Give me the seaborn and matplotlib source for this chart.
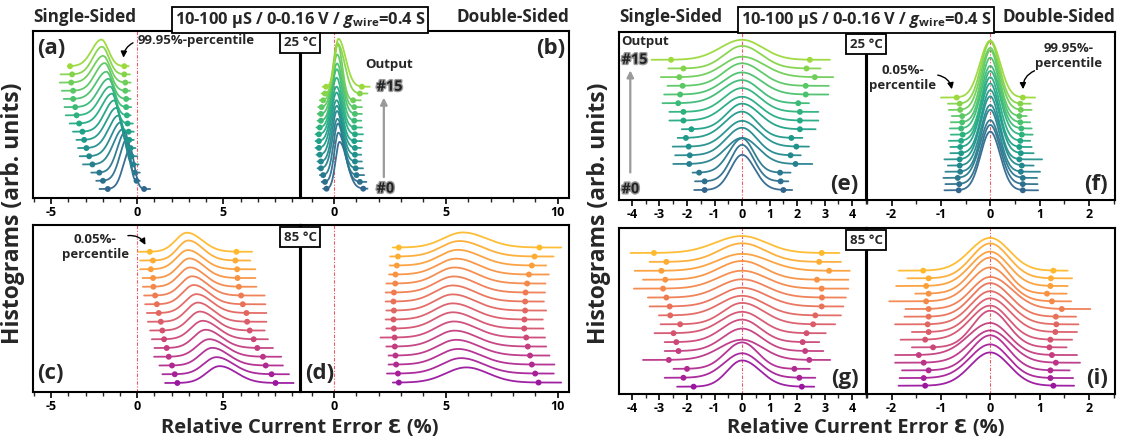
import numpy as np
import pandas as pd
import matplotlib
matplotlib.use("Agg")
import matplotlib.pyplot as plt
import seaborn as sns
from matplotlib import patheffects as pe
from matplotlib.ticker import MultipleLocator

sns.set_theme(style="white")
FONT = "Open Sans"
plt.rcParams["font.family"] = [FONT, "DejaVu Sans"]
plt.rcParams["font.weight"] = "bold"
plt.rcParams["axes.unicode_minus"] = False
plt.rcParams["mathtext.fontset"] = "custom"
plt.rcParams["mathtext.rm"] = f"{FONT}:bold"
plt.rcParams["mathtext.bf"] = f"{FONT}:bold"
plt.rcParams["mathtext.it"] = f"{FONT}:bold:italic"

# ---------------- data (lists ordered from output #15 down to #0) -------------
outputs = list(range(16))

# (a) 25 °C single-sided
a_lo_ext = [-4.00, -4.45, -4.50, -4.38, -4.27, -4.22, -4.15, -3.92, -3.73, -3.53, -3.44, -3.34, -3.15, -2.67, -2.38, -2.19]
a_p_lo   = [-3.90, -3.78, -3.83, -3.72, -3.72, -3.60, -3.52, -3.37, -3.18, -3.08, -2.95, -2.79, -2.60, -2.20, -1.99, -1.71]
a_peak   = [-2.08, -2.04, -1.98, -1.89, -1.79, -1.66, -1.56, -1.46, -1.33, -1.21, -1.08, -0.94, -0.83, -0.69, -0.56, -0.41]
a_p_hi   = [-0.75, -0.75, -0.69, -0.69, -0.64, -0.64, -0.60, -0.56, -0.50, -0.46, -0.38, -0.33, -0.23, -0.14, -0.04, 0.40]
a_hi_ext = [-0.50, -0.42, -0.38, -0.42, -0.38, -0.35, -0.38, -0.25, -0.20, -0.20, -0.10, 0.00, 0.08, 0.15, 0.15, 0.75]

# (b) 25 °C double-sided
b_lo_ext = [-0.50, -0.55, -0.63, -0.70, -0.73, -0.73, -0.78, -0.82, -0.82, -0.82, -0.78, -0.73, -0.73, -0.63, -0.55, -0.48]
b_p_lo   = [-0.35, -0.40, -0.48, -0.55, -0.58, -0.58, -0.63, -0.67, -0.67, -0.67, -0.63, -0.58, -0.58, -0.48, -0.40, -0.33]
b_peak   = [0.20, 0.18, 0.16, 0.15, 0.14, 0.13, 0.12, 0.12, 0.12, 0.12, 0.13, 0.14, 0.16, 0.18, 0.20, 0.25]
b_p_hi   = [1.25, 1.16, 0.86, 0.91, 0.94, 0.91, 0.91, 0.94, 0.91, 0.94, 0.94, 0.94, 0.97, 1.01, 1.16, 1.31]
b_hi_ext = [1.60, 1.50, 1.20, 1.25, 1.25, 1.22, 1.25, 1.30, 1.25, 1.20, 1.22, 1.25, 1.30, 1.35, 1.45, 1.50]

# (c) 85 °C single-sided
c_lo_ext = [0.08, 0.17, 0.17, 0.31, 0.33, 0.40, 0.46, 0.56, 0.62, 0.75, 0.85, 1.00, 0.98, 1.29, 1.46, 1.62]
c_p_lo   = [0.73, 0.91, 0.79, 0.92, 0.94, 1.04, 1.14, 1.25, 1.37, 1.46, 1.56, 1.71, 1.83, 2.02, 2.18, 2.33]
c_peak   = [2.89, 2.97, 2.94, 3.03, 3.07, 3.19, 3.29, 3.44, 3.52, 3.64, 3.80, 3.97, 4.18, 4.36, 4.60, 4.78]
c_p_hi   = [5.76, 5.70, 5.80, 5.82, 5.90, 6.03, 6.13, 6.34, 6.38, 6.53, 6.76, 6.97, 7.30, 7.46, 7.80, 8.03]
c_hi_ext = [6.67, 6.57, 6.86, 6.86, 6.92, 7.40, 7.44, 7.50, 7.50, 7.40, 7.59, 7.88, 8.36, 8.46, 8.81, 9.08]

# (d) 85 °C double-sided
d_lo_ext = [2.63, 2.51, 2.49, 2.46, 2.34, 2.31, 2.31, 2.34, 2.31, 2.34, 2.08, 2.34, 2.44, 2.44, 2.37, 2.63]
d_p_lo   = [2.90, 2.86, 2.81, 2.75, 2.74, 2.68, 2.66, 2.68, 2.66, 2.68, 2.71, 2.72, 2.75, 2.78, 2.86, 2.90]
d_peak   = [5.76, 5.61, 5.54, 5.46, 5.39, 5.36, 5.31, 5.31, 5.31, 5.31, 5.36, 5.39, 5.46, 5.54, 5.68, 5.91]
d_p_hi   = [9.18, 8.96, 8.84, 8.71, 8.63, 8.56, 8.54, 8.54, 8.51, 8.50, 8.59, 8.66, 8.76, 8.84, 8.99, 9.14]
d_hi_ext = [10.15, 9.81, 9.48, 9.60, 9.45, 9.43, 9.38, 9.48, 9.33, 9.36, 9.43, 9.48, 9.63, 9.85, 9.82, 10.15]

# (e) 25 °C single-sided (zero-centred)
e_lo_ext = [-3.29, -2.68, -2.95, -2.71, -2.83, -2.89, -2.64, -2.64, -2.19, -2.34, -2.52, -2.43, -2.50, -1.80, -1.71, -1.74]
e_p_lo   = [-2.58, -2.13, -2.28, -2.16, -2.25, -2.32, -2.13, -2.13, -1.84, -2.04, -1.94, -1.90, -1.92, -1.56, -1.36, -1.36]
e_peak   = [0.0] * 16
e_p_hi   = [2.46, 2.34, 2.64, 2.31, 2.31, 2.04, 2.10, 2.10, 2.10, 1.79, 1.97, 1.76, 1.94, 1.38, 1.40, 1.50]
e_hi_ext = [3.19, 2.85, 3.31, 3.15, 3.13, 2.43, 2.77, 2.77, 2.67, 2.19, 2.43, 2.13, 2.55, 1.76, 1.68, 1.82]

# (f) 25 °C double-sided (zero-centred)
f_lo_ext = [-1.00, -0.86, -0.84, -0.78, -0.80, -0.82, -0.80, -0.84, -0.81, -0.81, -0.93, -0.86, -0.91, -0.95, -0.91, -0.93]
f_p_lo   = [-0.68, -0.62, -0.61, -0.57, -0.57, -0.59, -0.56, -0.59, -0.61, -0.59, -0.62, -0.62, -0.61, -0.66, -0.63, -0.64]
f_peak   = [0.0] * 16
f_p_hi   = [0.66, 0.61, 0.62, 0.59, 0.61, 0.63, 0.64, 0.61, 0.59, 0.62, 0.59, 0.64, 0.62, 0.66, 0.66, 0.66]
f_hi_ext = [0.91, 0.82, 0.84, 0.74, 0.81, 0.84, 0.86, 0.81, 0.84, 0.88, 1.05, 0.88, 1.01, 0.95, 0.96, 0.97]

# (g) 85 °C single-sided (zero-centred)
g_lo_ext = [-4.05, -3.36, -3.90, -3.60, -3.93, -3.42, -3.36, -3.02, -2.96, -3.18, -2.81, -2.81, -3.60, -2.49, -2.81, -2.36]
g_p_lo   = [-3.20, -2.75, -2.93, -2.79, -2.87, -2.75, -2.63, -2.61, -2.25, -2.49, -2.39, -2.31, -2.66, -2.00, -2.13, -1.76]
g_peak   = [0.0] * 16
g_p_hi   = [2.89, 2.80, 3.16, 2.72, 2.89, 2.90, 2.89, 2.66, 2.58, 2.34, 2.20, 2.29, 2.44, 1.90, 2.08, 2.17]
g_hi_ext = [3.53, 3.59, 3.91, 3.86, 3.86, 3.77, 3.68, 3.59, 3.38, 3.04, 2.80, 2.95, 3.20, 2.46, 2.66, 2.62]

# (i) 85 °C double-sided (zero-centred)
i_lo_ext = [-1.86, -1.68, -1.91, -1.52, -2.05, -1.72, -1.74, -1.93, -1.59, -1.82, -1.59, -1.93, -1.93, -1.79, -1.84, -1.86]
i_p_lo   = [-1.36, -1.25, -1.30, -1.25, -1.30, -1.25, -1.25, -1.27, -1.25, -1.32, -1.16, -1.45, -1.35, -1.25, -1.35, -1.32]
i_peak   = [0.0] * 16
i_p_hi   = [1.28, 1.23, 1.22, 1.15, 1.25, 1.45, 1.33, 1.34, 1.32, 1.22, 1.20, 1.25, 1.33, 1.22, 1.22, 1.28]
i_hi_ext = [1.57, 1.66, 1.57, 1.55, 1.64, 2.03, 1.74, 1.79, 1.76, 1.66, 1.55, 1.76, 1.82, 1.61, 1.68, 1.70]

# ---------------- layout helpers ----------------
W, H = 1123, 443
fig = plt.figure(figsize=(W / 100, H / 100), dpi=100)


def rect(l, r, t, b):
    return [l / W, 1 - b / H, (r - l) / W, (b - t) / H]


def fx(px):
    return px / W


def fy(py):
    return 1 - py / H


viridis = matplotlib.colormaps["viridis"]
plasma = matplotlib.colormaps["plasma"]
cols_25 = [viridis(v) for v in np.linspace(0.33, 0.85, 16)]
cols_85 = [plasma(v) for v in np.linspace(0.33, 0.85, 16)]

panels = [
    # name, rect(px), xlim, ylim, major, minor, data, area, colours, label pos
    ("a", (33, 300, 31, 198), (-6.05, 9.45), (-1.1, 19.3), 5, 1,
     (a_lo_ext, a_p_lo, a_peak, a_p_hi, a_hi_ext), 3.9, cols_25, "tl"),
    ("b", (301, 569, 31, 198), (-1.47, 10.5), (-1.37, 23.2), 5, 1,
     (b_lo_ext, b_p_lo, b_peak, b_p_hi, b_hi_ext), 4.3, cols_25, "tr"),
    ("c", (33, 300, 225, 392), (-6.05, 9.45), (-1.03, 18.06), 5, 1,
     (c_lo_ext, c_p_lo, c_peak, c_p_hi, c_hi_ext), 4.18, cols_85, "bl"),
    ("d", (301, 569, 225, 392), (-1.47, 10.5), (-1.05, 17.5), 5, 1,
     (d_lo_ext, d_p_lo, d_peak, d_p_hi, d_hi_ext), 4.0, cols_85, "bl"),
    ("e", (619, 866, 32, 200), (-4.47, 4.5), (-1.15, 18.2), 1, 0.5,
     (e_lo_ext, e_p_lo, e_peak, e_p_hi, e_hi_ext), 4.42, cols_25, "br"),
    ("f", (867, 1115, 32, 200), (-2.5, 2.53), (-1.57, 25.6), 1, 0.5,
     (f_lo_ext, f_p_lo, f_peak, f_p_hi, f_hi_ext), 4.7, cols_25, "br"),
    ("g", (619, 866, 228, 394), (-4.47, 4.5), (-0.82, 17.8), 1, 0.5,
     (g_lo_ext, g_p_lo, g_peak, g_p_hi, g_hi_ext), 4.41, cols_85, "br"),
    ("i", (867, 1115, 228, 394), (-2.5, 2.53), (-1.08, 20.56), 1, 0.5,
     (i_lo_ext, i_p_lo, i_peak, i_p_hi, i_hi_ext), 4.3, cols_85, "br"),
]

axes = {}
for name, r, xlim, ylim, major, minor, data, area, cols, lpos in panels:
    ax = fig.add_axes(rect(*r))
    axes[name] = ax
    lo_ext, p_lo, peak, p_hi, hi_ext = [np.asarray(v, float)[::-1] for v in data]  # index = output #
    curves = []
    marks = []
    for k in outputs:
        xs = np.linspace(min(lo_ext[k], p_lo[k]), max(hi_ext[k], p_hi[k]), 400)
        sl = (peak[k] - p_lo[k]) / 3.29
        sr = (p_hi[k] - peak[k]) / 3.29
        s = np.where(xs < peak[k], sl, sr)
        dens = area * 2 / (np.sqrt(2 * np.pi) * (sl + sr)) * np.exp(-0.5 * ((xs - peak[k]) / s) ** 2)
        curves.append(pd.DataFrame({"x": xs, "y": k + dens, "out": k}))
        marks.append(pd.DataFrame({"x": [p_lo[k], p_hi[k]], "y": [k, k], "out": k}))
    df = pd.concat(curves, ignore_index=True)
    dm = pd.concat(marks, ignore_index=True)
    ax.axvline(0, color="#e8323c", ls=(0, (3, 1.5, 1, 1.5)), lw=0.8, alpha=0.8, zorder=1)
    sns.lineplot(data=df, x="x", y="y", hue="out", palette=cols, estimator=None,
                 sort=False, lw=1.3, alpha=0.95, legend=False, ax=ax, zorder=2)
    sns.scatterplot(data=dm, x="x", y="y", hue="out", palette=cols, s=18,
                    linewidth=0, legend=False, ax=ax, zorder=3)
    ax.set_xlim(*xlim)
    ax.set_ylim(*ylim)
    ax.set_yticks([])
    ax.set_xlabel("")
    ax.set_ylabel("")
    ax.xaxis.set_major_locator(MultipleLocator(major))
    ax.xaxis.set_minor_locator(MultipleLocator(minor))
    ax.tick_params(axis="x", which="major", direction="out", length=4, width=1.2,
                   labelsize=9, pad=2, bottom=True, colors="black")
    ax.tick_params(axis="x", which="minor", direction="out", length=3, width=1.0, bottom=True)
    for lab in ax.get_xticklabels():
        lab.set_fontweight("bold")
    for sp in ax.spines.values():
        sp.set_color("black")
        sp.set_linewidth(1.5)
    lab_txt = f"({name})"
    if lpos == "tl":
        ax.text(0.015, 0.96, lab_txt, transform=ax.transAxes, ha="left", va="top", fontsize=16, fontweight="bold")
    elif lpos == "tr":
        ax.text(0.985, 0.96, lab_txt, transform=ax.transAxes, ha="right", va="top", fontsize=16, fontweight="bold")
    elif lpos == "bl":
        ax.text(0.015, 0.05, lab_txt, transform=ax.transAxes, ha="left", va="bottom", fontsize=16, fontweight="bold")
    else:
        ax.text(0.97, 0.03, lab_txt, transform=ax.transAxes, ha="right", va="bottom", fontsize=16, fontweight="bold")

# ---------------- annotations ----------------
arrow_kw = dict(arrowstyle="-|>", color="black", lw=1.0, mutation_scale=9)

ax = axes["a"]
ax.text(0.05, 18.2, "99.95%-percentile", ha="left", va="center", fontsize=9.5, fontweight="bold")
ax.annotate("", xy=(-0.8, 15.7), xytext=(-0.1, 18.0),
            arrowprops=dict(connectionstyle="arc3,rad=0.35", **arrow_kw))

ax = axes["c"]
ax.text(-2.43, 15.5, "0.05%-\npercentile", ha="center", va="center", fontsize=9.5,
        fontweight="bold", multialignment="center", linespacing=1.2)
ax.annotate("", xy=(0.55, 15.5), xytext=(-0.7, 16.8),
            arrowprops=dict(connectionstyle="arc3,rad=-0.4", **arrow_kw))

ax = axes["f"]
ax.text(-1.77, 18.2, "0.05%-\npercentile", ha="center", va="center", fontsize=9.5,
        fontweight="bold", multialignment="center", linespacing=1.2)
ax.annotate("", xy=(-0.77, 15.9), xytext=(-1.12, 18.7),
            arrowprops=dict(connectionstyle="arc3,rad=-0.4", **arrow_kw))
ax.text(1.58, 21.7, "99.95%-\npercentile", ha="center", va="center", fontsize=9.5,
        fontweight="bold", multialignment="center", linespacing=1.2)
ax.annotate("", xy=(0.67, 15.9), xytext=(0.95, 19.5),
            arrowprops=dict(connectionstyle="arc3,rad=0.4", **arrow_kw))

outline = [pe.withStroke(linewidth=2.0, foreground="#9a9a9a")]
gray_arrow = dict(arrowstyle="-|>", color="#9a9a9a", lw=1.6, mutation_scale=10)

ax = axes["b"]
ax.text(2.48, 18.3, "Output", ha="center", va="center", fontsize=9.5, fontweight="bold")
ax.text(1.9, 15.0, "#15", ha="left", va="center", fontsize=10.5, fontweight="bold",
        color="#222222", path_effects=outline)
ax.text(1.9, 0.0, "#0", ha="left", va="center", fontsize=10.5, fontweight="bold",
        color="#222222", path_effects=outline)
ax.annotate("", xy=(2.23, 13.8), xytext=(2.23, 1.3), arrowprops=gray_arrow)

ax = axes["e"]
ax.text(-4.38, 17.1, "Output", ha="left", va="center", fontsize=9.5, fontweight="bold")
ax.text(-4.38, 15.0, "#15", ha="left", va="center", fontsize=10.5, fontweight="bold",
        color="#222222", path_effects=outline)
ax.text(-4.38, 0.1, "#0", ha="left", va="center", fontsize=10.5, fontweight="bold",
        color="#222222", path_effects=outline)
ax.annotate("", xy=(-4.06, 14.1), xytext=(-4.06, 1.7), arrowprops=gray_arrow)

# ---------------- figure-level text ----------------
box = dict(boxstyle="square,pad=0.18", fc="white", ec="black", lw=1.3)
title_box = r"10-100 µS / 0-0.16 V / $g_{\rm wire}$=0.4 S"
for cx, left, right in [(300, 33, 569), (866, 619, 1115)]:
    fig.text(fx(left), fy(17), "Single-Sided", ha="left", va="center", fontsize=12.3, fontweight="bold")
    fig.text(fx(right), fy(17), "Double-Sided", ha="right", va="center", fontsize=12.3, fontweight="bold")
    fig.text(fx(cx), fy(20), title_box, ha="center", va="center", fontsize=11.8, fontweight="bold", bbox=box)
    fig.text(fx(cx), fy(428), "Relative Current Error Ɛ (%)", ha="center", va="center",
             fontsize=14.5, fontweight="bold")

tbox = dict(boxstyle="square,pad=0.28", fc="white", ec="black", lw=1.3)
fig.text(fx(300), fy(43), "25 °C", ha="center", va="center", fontsize=9.5, fontweight="bold", bbox=tbox)
fig.text(fx(300), fy(237), "85 °C", ha="center", va="center", fontsize=9.5, fontweight="bold", bbox=tbox)
fig.text(fx(866), fy(44), "25 °C", ha="center", va="center", fontsize=9.5, fontweight="bold", bbox=tbox)
fig.text(fx(866), fy(240), "85 °C", ha="center", va="center", fontsize=9.5, fontweight="bold", bbox=tbox)

fig.text(fx(13), fy(213), "Histograms (arb. units)", rotation=90, ha="center", va="center",
         fontsize=16.5, fontweight="bold")
fig.text(fx(599), fy(213), "Histograms (arb. units)", rotation=90, ha="center", va="center",
         fontsize=16.5, fontweight="bold")

fig.savefig("out.png", dpi=100)
